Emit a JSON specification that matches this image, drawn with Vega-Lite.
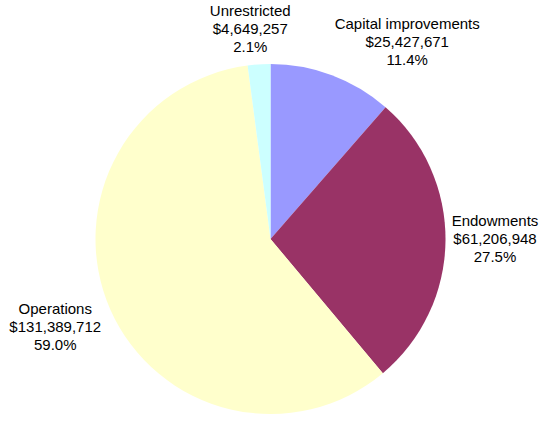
{
  "$schema": "https://vega.github.io/schema/vega-lite/v6.json",
  "width": 350,
  "height": 350,
  "autosize": {"type": "none"},
  "padding": {"left": 95.5, "top": 64, "right": 109.5, "bottom": 9},
  "background": "white",
  "config": {"view": {"stroke": null}},
  "data": {
    "values": [
      {"category": "Capital improvements", "value": 25427671, "label": "Capital improvements\n$25,427,671\n11.4%"},
      {"category": "Endowments", "value": 61206948, "label": "Endowments\n$61,206,948\n27.5%"},
      {"category": "Operations", "value": 131389712, "label": "Operations\n$131,389,712\n59.0%"},
      {"category": "Unrestricted", "value": 4649257, "label": "Unrestricted\n$4,649,257\n2.1%"}
    ]
  },
  "layer": [
    {
      "mark": {"type": "arc"},
      "encoding": {
        "theta": {"field": "value", "type": "quantitative", "stack": true},
        "order": {"field": "category", "sort": "ascending"},
        "color": {
          "field": "category",
          "type": "nominal",
          "scale": {
            "domain": ["Capital improvements", "Endowments", "Operations", "Unrestricted"],
            "range": ["#9999FF", "#993366", "#FFFFCC", "#CCFFFF"]
          },
          "legend": null
        }
      }
    },
    {
      "mark": {"type": "text", "radius": 210, "dx": 63, "dy": -18, "font": "Liberation Sans", "fontSize": 15, "lineHeight": 18, "lineBreak": "\n", "color": "#000000", "align": "center", "baseline": "middle"},
      "encoding": {
        "theta": {"field": "value", "type": "quantitative", "stack": true},
        "order": {"field": "category", "sort": "ascending"},
        "detail": {"field": "category", "type": "nominal"},
        "text": {"condition": {"test": "datum.category === 'Capital improvements'", "field": "label"}, "value": ""}
      }
    },
    {
      "mark": {"type": "text", "radius": 210, "dx": 14.5, "dy": -20, "font": "Liberation Sans", "fontSize": 15, "lineHeight": 18, "lineBreak": "\n", "color": "#000000", "align": "center", "baseline": "middle"},
      "encoding": {
        "theta": {"field": "value", "type": "quantitative", "stack": true},
        "order": {"field": "category", "sort": "ascending"},
        "detail": {"field": "category", "type": "nominal"},
        "text": {"condition": {"test": "datum.category === 'Endowments'", "field": "label"}, "value": ""}
      }
    },
    {
      "mark": {"type": "text", "radius": 210, "dx": -23, "dy": -14, "font": "Liberation Sans", "fontSize": 15, "lineHeight": 18, "lineBreak": "\n", "color": "#000000", "align": "center", "baseline": "middle"},
      "encoding": {
        "theta": {"field": "value", "type": "quantitative", "stack": true},
        "order": {"field": "category", "sort": "ascending"},
        "detail": {"field": "category", "type": "nominal"},
        "text": {"condition": {"test": "datum.category === 'Operations'", "field": "label"}, "value": ""}
      }
    },
    {
      "mark": {"type": "text", "radius": 210, "dx": -6.5, "dy": -18, "font": "Liberation Sans", "fontSize": 15, "lineHeight": 18, "lineBreak": "\n", "color": "#000000", "align": "center", "baseline": "middle"},
      "encoding": {
        "theta": {"field": "value", "type": "quantitative", "stack": true},
        "order": {"field": "category", "sort": "ascending"},
        "detail": {"field": "category", "type": "nominal"},
        "text": {"condition": {"test": "datum.category === 'Unrestricted'", "field": "label"}, "value": ""}
      }
    }
  ]
}
